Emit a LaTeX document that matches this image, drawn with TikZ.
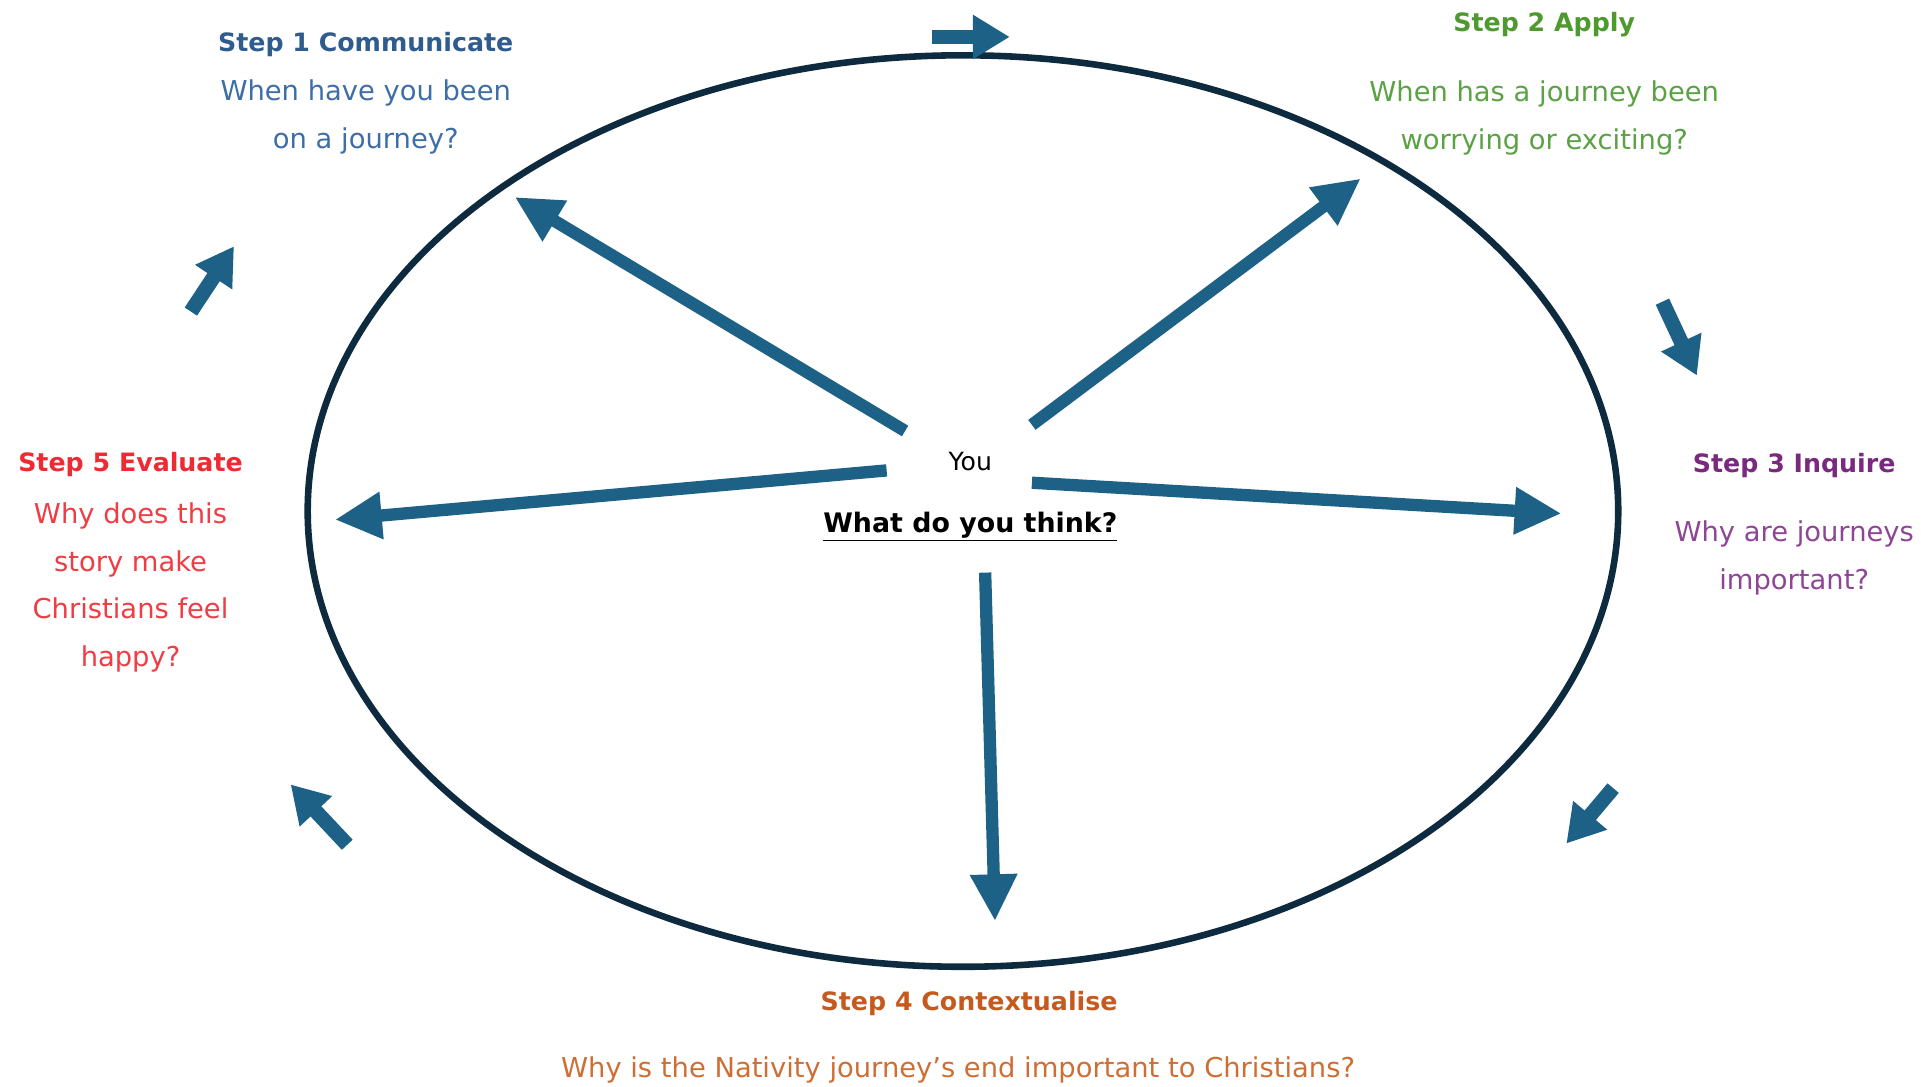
\documentclass[tikz,border=0pt]{standalone}
\usepackage{fontspec}
\setmainfont{DejaVu Sans}
\usepackage{xcolor}
\usepackage{tikz}
\usetikzlibrary{arrows.meta,positioning}
\definecolor{ringnavy}{HTML}{0E2A3F}
\definecolor{arrowblue}{HTML}{1D6186}
\definecolor{stepone}{HTML}{2F5C8F}
\definecolor{steponebody}{HTML}{3D6EA8}
\definecolor{steptwo}{HTML}{4E9A2F}
\definecolor{steptwobody}{HTML}{5BA245}
\definecolor{stepthree}{HTML}{7A2A7E}
\definecolor{stepthreebody}{HTML}{8E4595}
\definecolor{stepfour}{HTML}{C65A1E}
\definecolor{stepfourbody}{HTML}{CF6E34}
\definecolor{stepfive}{HTML}{EE2B33}
\definecolor{stepfivebody}{HTML}{F03C44}

\begin{document}
\begin{tikzpicture}[
    x=0.025cm,
    y=-0.025cm,
    ring/.style={
        draw=ringnavy,
        line width=3.8pt
    },
    spoke/.style={
        -{Triangle[length=0.95cm,width=0.9cm]},
        line width=0.25cm,
        color=arrowblue
    },
    turnarrow/.style={
        -{Triangle[length=0.75cm,width=0.85cm]},
        line width=0.3cm,
        color=arrowblue
    },
    steptitle/.style={
        font=\fontsize{14.6}{27}\selectfont\bfseries,
        align=center,
        inner sep=0pt
    },
    stepbody/.style={
        font=\fontsize{15.8}{27.5}\selectfont,
        align=center,
        inner sep=0pt
    }
]
\useasboundingbox (0,0) rectangle (1560,882);

% Outer ring
\draw[ring] (782,415) ellipse [x radius=13.3cm, y radius=9.25cm];

% Centre: You
\node[font=\fontsize{14.5}{16}\selectfont] (you) at (788,375) {You};
\node[font=\fontsize{15.5}{17}\selectfont\bfseries] (think) at (788,428) {\underline{What do you think?}};

% Steps round the ring
\node[steptitle, text=stepone] (communicate) at (297,36) {Step 1 Communicate};
\node[stepbody, text=steponebody] (communicateq) at (297,95) {When have you been\\on a journey?};

\node[steptitle, text=steptwo] (apply) at (1254,20) {Step 2 Apply};
\node[stepbody, text=steptwobody] (applyq) at (1254,96) {When has a journey been\\worrying or exciting?};

\node[steptitle, text=stepthree] (inquire) at (1457,378) {Step 3 Inquire};
\node[stepbody, text=stepthreebody] (inquireq) at (1457,453) {Why are journeys\\important?};

\node[steptitle, text=stepfour] (contextualise) at (787,815) {Step 4 Contextualise};
\node[stepbody, text=stepfourbody] (contextualiseq) at (778,869) {Why is the Nativity journey’s end important to Christians?};

\node[steptitle, text=stepfive] (evaluate) at (106,377) {Step 5 Evaluate};
\node[stepbody, text=stepfivebody] (evaluateq) at (106,477) {Why does this\\story make\\Christians feel\\happy?};

% Spoke ends
\coordinate (s1a) at (735,350); \coordinate (s1b) at (418,160);
\coordinate (s2a) at (838,345); \coordinate (s2b) at (1105,145);
\coordinate (s3a) at (838,392); \coordinate (s3b) at (1268,417);
\coordinate (s4a) at (800,465); \coordinate (s4b) at (808,748);
\coordinate (s5a) at (720,382); \coordinate (s5b) at (272,422);

\foreach \s in {s1, s2, s3, s4, s5} {
    \draw[spoke] (\s a) -- (\s b);
}

% Turning arrows outside the ring
\coordinate (t1a) at (757,30);  \coordinate (t1b) at (820,30);
\coordinate (t2a) at (1350,245); \coordinate (t2b) at (1378,305);
\coordinate (t3a) at (1310,640); \coordinate (t3b) at (1272,685);
\coordinate (t4a) at (282,686);  \coordinate (t4b) at (236,637);
\coordinate (t5a) at (155,253);  \coordinate (t5b) at (190,200);

\foreach \t in {t1, t2, t3, t4, t5} {
    \draw[turnarrow] (\t a) -- (\t b);
}

\end{tikzpicture}
\end{document}
